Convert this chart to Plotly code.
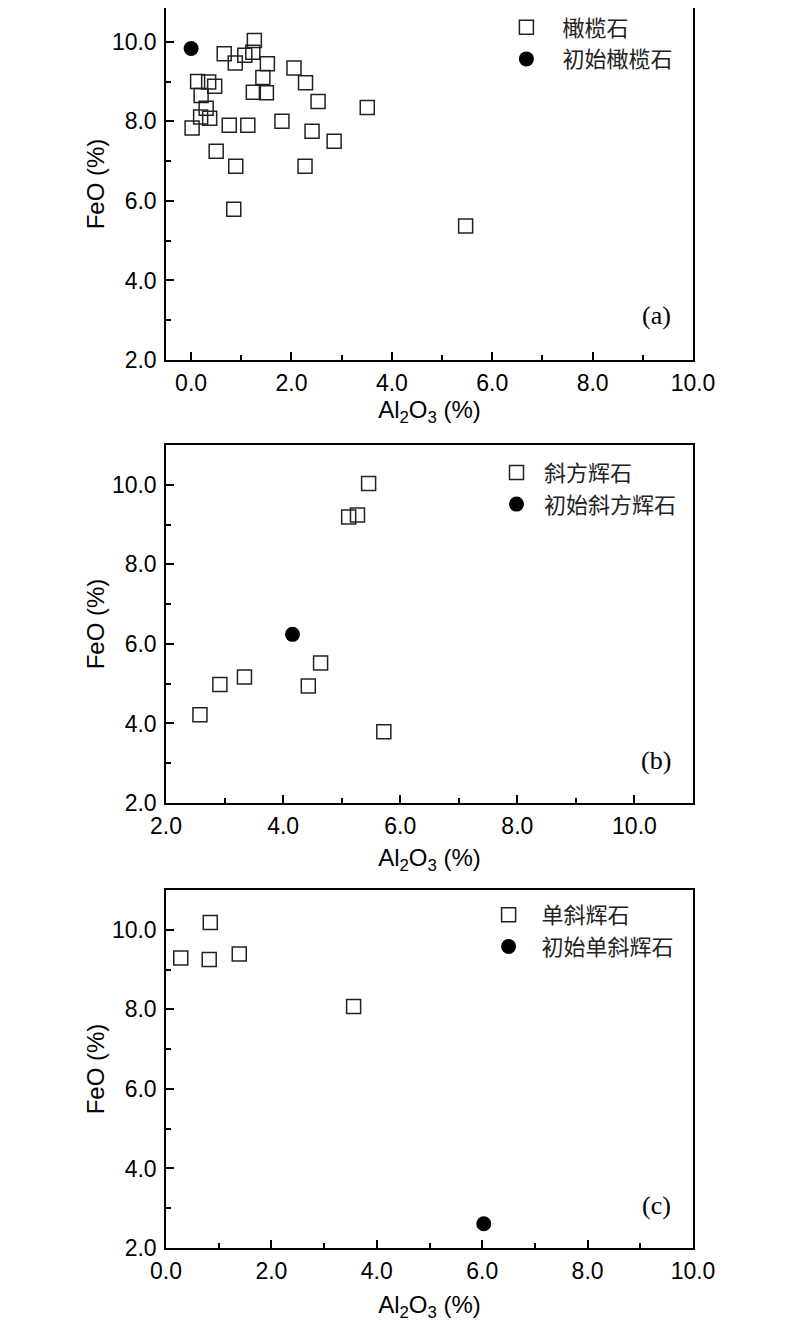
import plotly.graph_objects as go

# Panel (a) olivine
ol_al = [1.26, 1.23, 0.66, 1.07, 0.88, 1.52, 1.43, 1.24, 1.50, 2.05, 2.28, 2.53, 3.51,
         0.13, 0.35, 0.47, 0.20, 0.30, 0.19, 0.37, 0.02, 0.76, 1.13, 1.81, 2.41, 2.85,
         0.50, 0.89, 2.27, 0.85, 5.47]
ol_fe = [10.03, 9.74, 9.70, 9.66, 9.47, 9.45, 9.10, 8.73, 8.72, 9.34, 8.97, 8.50, 8.35,
         9.00, 8.99, 8.88, 8.65, 8.33, 8.11, 8.08, 7.83, 7.90, 7.90, 8.00, 7.75, 7.50,
         7.25, 6.87, 6.87, 5.79, 5.37]
ol0_al = [0.0]
ol0_fe = [9.83]

# Panel (b) orthopyroxene
opx_al = [5.46, 5.12, 5.27, 4.64, 3.34, 2.92, 4.43, 2.58, 5.72]
opx_fe = [10.03, 9.19, 9.24, 5.52, 5.17, 4.98, 4.94, 4.22, 3.79]
opx0_al = [4.16]
opx0_fe = [6.24]

# Panel (c) clinopyroxene
cpx_al = [0.28, 0.84, 0.82, 1.39, 3.56]
cpx_fe = [9.29, 10.18, 9.25, 9.39, 8.07]
cpx0_al = [6.03]
cpx0_fe = [2.61]

names = [("橄榄石", "初始橄榄石"), ("斜方辉石", "初始斜方辉石"), ("单斜辉石", "初始单斜辉石")]
panel_labels = ["(a)", "(b)", "(c)"]
x_ranges = [[-0.5, 10], [2, 11], [0, 10]]
y_ranges = [[2, 10.85], [2, 11], [2, 11]]

W, H = 800, 1324
ML, MR, MT, MB = 158, 115, 0, 84
plot_h = H - MT - MB
plot_w = W - ML - MR

def ydom(top_px, bot_px):
    return [(H - MB - bot_px) / plot_h, (H - MB - top_px) / plot_h]

def px_x(px):
    return (px - ML) / plot_w

def px_y(py):
    return (H - MB - py) / plot_h

domains = [ydom(0, 352), ydom(437, 795), ydom(882, 1240)]

fig = go.Figure()

data = [(ol_al, ol_fe, ol0_al, ol0_fe), (opx_al, opx_fe, opx0_al, opx0_fe),
        (cpx_al, cpx_fe, cpx0_al, cpx0_fe)]

sq = dict(symbol="square-open", size=14, color="#222", line=dict(width=1.5, color="#222"))
ci = dict(symbol="circle", size=15, color="black")

legend_ids = ["legend", "legend2", "legend3"]
for i, (xa, ya, x0, y0) in enumerate(data):
    ax = "" if i == 0 else str(i + 1)
    fig.add_trace(go.Scatter(x=xa, y=ya, mode="markers", marker=sq, name=names[i][0],
                             xaxis="x" + ax, yaxis="y" + ax, legend=legend_ids[i],
                             legendgroup=f"g{i}a"))
    fig.add_trace(go.Scatter(x=x0, y=y0, mode="markers", marker=ci, name=names[i][1],
                             xaxis="x" + ax, yaxis="y" + ax, legend=legend_ids[i],
                             legendgroup=f"g{i}b"))

tickfont = dict(family="Arial, Liberation Sans", size=23, color="black")
titlefont = dict(family="Arial, Liberation Sans", size=24, color="black")
layout = dict(width=W, height=H, margin=dict(l=ML, r=MR, t=MT, b=MB, autoexpand=False),
              plot_bgcolor="white", paper_bgcolor="white", showlegend=True)

x_standoffs = [6, 11, 13]
for i in range(3):
    ax = "" if i == 0 else str(i + 1)
    layout["xaxis" + ax] = dict(
        domain=[0, 1], anchor="y" + ax, range=x_ranges[i], tick0=0, dtick=2,
        tickformat=".1f", showline=True, linecolor="black", linewidth=1.5, mirror=True,
        ticks="inside", ticklen=8, tickwidth=1.5, tickcolor="black", showgrid=False,
        zeroline=False, tickfont=tickfont, ticklabelstandoff=2, automargin=False,
        minor=dict(dtick=1, tick0=0, ticks="inside", ticklen=5, tickwidth=1.5, tickcolor="black"),
        title=dict(text="Al<sub>2</sub>O<sub>3</sub> (%)", font=titlefont,
                   standoff=x_standoffs[i]))
    layout["yaxis" + ax] = dict(
        domain=domains[i], anchor="x" + ax, range=y_ranges[i], tick0=0, dtick=2,
        tickformat=".1f", showline=True, linecolor="black", linewidth=1.5, mirror=True,
        ticks="inside", ticklen=8, tickwidth=1.5, tickcolor="black", showgrid=False,
        zeroline=False, tickfont=tickfont, ticklabelstandoff=3, automargin=False,
        minor=dict(dtick=1, tick0=0, ticks="inside", ticklen=5, tickwidth=1.5, tickcolor="black"),
        title=dict(text="FeO (%)", font=titlefont, standoff=0))

leg_pos = [(482.4, -1.5, 62), (481, 443.7, 45), (467.6, 886, 56)]
for i, lid in enumerate(legend_ids):
    x, y, w = leg_pos[i]
    layout[lid] = dict(x=px_x(x), y=px_y(y), xref="paper", yref="paper", xanchor="left",
                       yanchor="top", bgcolor="rgba(0,0,0,0)", itemwidth=w,
                       tracegroupgap=0, traceorder="grouped",
                       font=dict(family="Noto Sans CJK SC", size=22, color="#222"))

ann_y = [0.125, 0.118, 0.118]
annotations = []
for i in range(3):
    ax = "" if i == 0 else str(i + 1)
    annotations.append(dict(text=panel_labels[i], xref=f"x{ax} domain", yref=f"y{ax} domain",
                            x=0.93, y=ann_y[i], xanchor="center", yanchor="middle",
                            showarrow=False,
                            font=dict(family="Liberation Serif, Times New Roman", size=26,
                                      color="black")))
layout["annotations"] = annotations

fig.update_layout(**layout)
fig.write_html("out.html")
